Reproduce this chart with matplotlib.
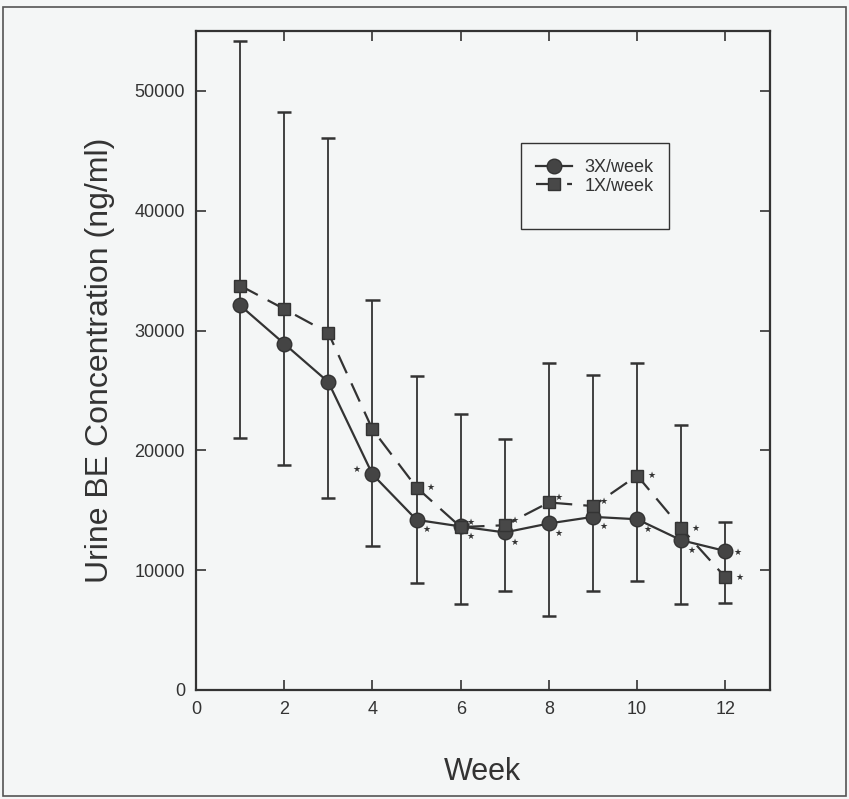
import numpy as np
import matplotlib
matplotlib.use("Agg")
import matplotlib.pyplot as plt
from matplotlib.patches import Rectangle

plt.rcParams['font.family'] = ['Liberation Sans', 'DejaVu Sans']

weeks = np.arange(1, 13)

# 3X/week dosing (circles)
mean_3x = [32100, 28900, 25700, 18000, 14200, 13650, 13150, 13900, 14450, 14250, 12500, 11600]
# 1X/week dosing (squares)
mean_1x = [33750, 31800, 29800, 21750, 16900, 13600, 13750, 15650, 15350, 17900, 13500, 9400]

# error bar ends (top and bottom of each vertical bar)
bar_top = [54200, 48250, 46100, 32550, 26200, 23050, 20950, 27250, 26300, 27300, 22150, 14050]
bar_bot = [21000, 18750, 16050, 12000, 8950, 7200, 8300, 6200, 8300, 9100, 7150, 7300]

# points flagged as significant
star_3x = [False, False, False, True, True, True, True, True, True, True, True, True]
star_1x = [False, False, False, False, True, True, True, True, True, True, True, True]

ink = '#333333'

fig = plt.figure(figsize=(8.49, 7.99), dpi=100)
fig.patch.set_facecolor('#f4f6f6')
fig.patches.append(Rectangle((3 / 849, 3 / 799), 843 / 849, 789 / 799, transform=fig.transFigure,
                             fill=False, edgecolor='#555555', linewidth=1.2))

ax = fig.add_axes([196 / 849, 1 - 690 / 799, 573.5 / 849, 659 / 799])
ax.set_facecolor('#f4f6f6')

ax.vlines(weeks, bar_bot, bar_top, color=ink, linewidth=1.3, zorder=1)
ax.hlines(bar_top, weeks - 0.16, weeks + 0.16, color=ink, linewidth=1.8, zorder=1)
ax.hlines(bar_bot, weeks - 0.16, weeks + 0.16, color=ink, linewidth=1.8, zorder=1)

ax.plot(weeks, mean_3x, color=ink, linewidth=1.6, marker='o', markersize=10.5,
        markerfacecolor='#444444', markeredgecolor=ink, label='3X/week', zorder=3)
ax.plot(weeks, mean_1x, color=ink, linewidth=1.6, linestyle=(0, (9, 5)), marker='s', markersize=9,
        markerfacecolor='#484848', markeredgecolor=ink, label='1X/week', zorder=3)

for w, y, s in zip(weeks, mean_3x, star_3x):
    if not s:
        continue
    if w == 4:
        off = (-16, 5)
    elif w == 12:
        off = (12, -1)
    else:
        off = (10, -10)
    ax.annotate('★', (w, y), xytext=off, textcoords='offset pixels', ha='center', va='center',
                fontsize=6.5, color=ink, family='DejaVu Sans')

for w, y, s in zip(weeks, mean_1x, star_1x):
    if not s:
        continue
    if w in (5, 10, 11, 12):
        off = (14, 0)
    else:
        off = (10, 5)
    ax.annotate('★', (w, y), xytext=off, textcoords='offset pixels', ha='center', va='center',
                fontsize=6.5, color=ink, family='DejaVu Sans')

ax.set_xlim(0, 13)
ax.set_ylim(0, 55000)
ax.set_xticks([0, 2, 4, 6, 8, 10, 12])
ax.set_yticks([0, 10000, 20000, 30000, 40000, 50000])
ax.tick_params(direction='in', length=7, width=1.2, top=True, right=True,
               labelsize=13, colors=ink, pad=8)
for sp in ax.spines.values():
    sp.set_linewidth(1.6)
    sp.set_color(ink)

ax.set_xlabel('Week', fontsize=22, color=ink, labelpad=28)
ax.set_ylabel('Urine BE Concentration (ng/ml)', fontsize=23, color=ink, labelpad=14)

# legend frame drawn separately, taller than the entries
ax.add_patch(Rectangle((0.566, 0.70), 0.258, 0.13, transform=ax.transAxes, fill=False,
                       edgecolor=ink, linewidth=1.0, zorder=4))
ax.legend(loc='upper left', bbox_to_anchor=(0.57, 0.825), frameon=False, fontsize=13,
          handlelength=2.0, handletextpad=0.7, labelspacing=0.1, borderpad=0.2,
          labelcolor=ink)

fig.savefig('out.png', dpi=100, facecolor=fig.get_facecolor())
